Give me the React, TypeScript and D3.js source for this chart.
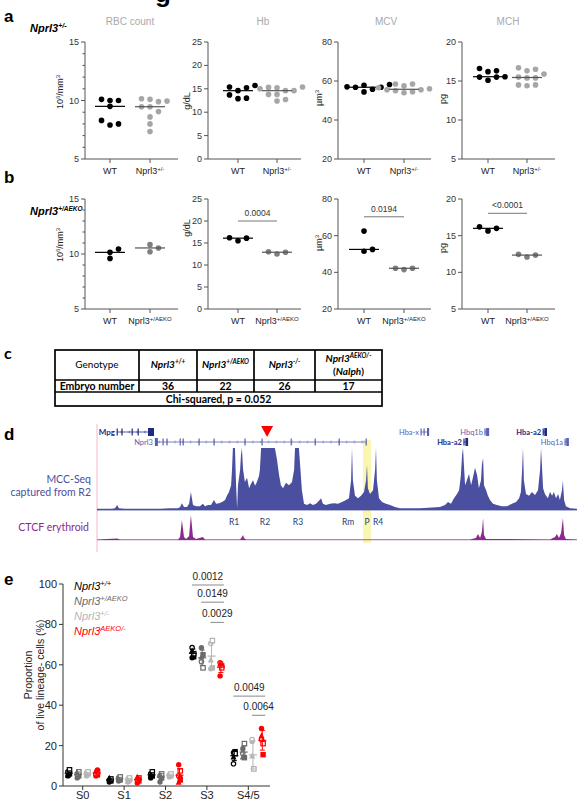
import React from "react";
import * as d3 from "d3";

const SANS = "'Liberation Sans', Arial, Helvetica, sans-serif";
const CAL = "Lato, 'Open Sans', 'DejaVu Sans', sans-serif";

// ---------------- Panel a data (Nprl3+/-) ----------------
const RBC_A_WT = [10.0, 10.0, 10.1, 9.5, 7.9, 8.3, 8.0];
const RBC_A_HET = [10.1, 10.15, 9.9, 9.95, 9.47, 9.47, 9.05, 8.6, 8.0, 7.35];
const HB_A_WT = [15.2, 15.4, 15.7, 14.6, 13.7, 12.9, 13.0];
const HB_A_HET = [15.0, 15.2, 15.4, 15.3, 14.6, 14.6, 13.8, 13.8, 12.4, 12.7];
const MCV_A_WT = [57.0, 58.2, 56.8, 55.8, 56.8, 57.8, 54.4];
const MCV_A_HET = [58.5, 57.5, 58.5, 56.5, 55.5, 55.5, 55.0, 54.5, 56.0, 54.0];
const MCH_A_WT = [16.6, 16.2, 16.3, 15.1, 15.55, 15.5, 15.5];
const MCH_A_HET = [16.5, 16.3, 16.7, 15.9, 15.5, 15.4, 15.4, 14.4, 14.5, 14.5];

// ---------------- Panel b data (Nprl3+/AEKO) ----------------
const RBC_B_WT = [10.45, 9.6, 10.15];
const RBC_B_AEKO = [10.85, 10.2, 10.55];
const HB_B_WT = [15.5, 16.2, 16.1];
const HB_B_AEKO = [12.5, 13.0, 12.9];
const MCV_B_WT = [51.5, 52.5, 62.5];
const MCV_B_AEKO = [41.5, 42.2, 42.2];
const MCH_B_WT = [15.65, 16.2, 16.0];
const MCH_B_AEKO = [12.1, 12.45, 12.35];
const B_PVALUES = { hb: "0.0004", mcv: "0.0194", mch: "<0.0001" };
const B_PBAR_LEVEL = { hb: 20, mcv: 70.3, mch: 18.05 };

// ---------------- Panel c table ----------------
const TABLE_GENOTYPES = [
  { base: "Nprl3", sup: "+/+" },
  { base: "Nprl3", sup: "+/AEKO" },
  { base: "Nprl3", sup: "-/-" },
  { base: "Nprl3", sup: "AEKO/-", line2: "(Nalph)" },
];
const EMBRYO_NUMBERS = [36, 22, 26, 17];
const CHI_TEXT = "Chi-squared, p = 0.052";

// ---------------- Panel d genome tracks (kb along locus) ----------------
const MCC_KB = [0, 2.7, 5, 6, 6.7, 7.3, 9.3, 14.3, 21, 24.3, 27, 27.7, 28.3, 29, 30, 30.7, 31.3, 32, 33, 34.3, 35.3, 36, 37, 38, 39, 39.7, 40.7, 41.7, 42.7, 43.3, 44, 44.7, 45, 45.3, 46, 46.3, 46.7, 47, 47.7, 48, 48.3, 48.7, 49.3, 50, 50.7, 51.3, 52, 52.7, 53.3, 54, 54.3, 54.7, 59.3, 60, 60.7, 61.3, 62, 63, 64, 65, 65.7, 66, 67.3, 67.7, 68.3, 69, 70, 71, 72, 73, 74, 74.7, 75.3, 76.3, 77.7, 79, 80.3, 81.7, 83, 84, 84.7, 85, 85.3, 86, 87, 88, 89, 89.7, 90, 90.3, 91, 92, 92.7, 93, 93.3, 94, 95, 96.3, 97.7, 99.3, 101, 107.7, 114.3, 116, 117, 118, 119, 120, 120.7, 121.3, 121.7, 122, 122.3, 122.7, 123.3, 124, 124.7, 125.3, 126, 126.7, 127.3, 128, 128.3, 128.7, 129, 129.7, 130.3, 131, 132, 133.3, 135, 136.7, 138.3, 139.7, 140.7, 141.3, 141.7, 142, 142.3, 143, 144, 145, 146, 147, 147.7, 148, 148.3, 148.7, 149.3, 150.3, 151, 151.7, 152.3, 153, 153.7, 154.3, 155, 155.3, 155.7, 156.3, 157.7, 160];
const MCC_SIGNAL = [2, 2, 2, 3, 8, 3, 2, 2, 2, 3, 3, 5, 11, 5, 5, 10, 29, 8, 6, 6, 10, 6, 8, 8, 16, 10, 11, 13, 16, 23, 29, 40, 65, 100, 100, 48, 3, 40, 65, 89, 100, 65, 45, 52, 35, 42, 48, 39, 45, 55, 65, 100, 100, 81, 56, 40, 35, 44, 40, 45, 65, 100, 100, 73, 32, 10, 8, 11, 8, 10, 15, 19, 10, 8, 10, 11, 10, 13, 16, 19, 48, 100, 48, 23, 19, 23, 29, 48, 73, 35, 26, 32, 65, 100, 48, 19, 13, 10, 8, 5, 3, 3, 5, 8, 13, 10, 19, 26, 32, 56, 89, 100, 73, 40, 48, 58, 40, 52, 68, 56, 35, 48, 73, 84, 40, 32, 23, 16, 10, 8, 6, 6, 10, 13, 19, 29, 65, 100, 48, 26, 23, 29, 24, 32, 65, 100, 73, 35, 26, 19, 29, 23, 29, 19, 26, 16, 32, 47, 16, 6, 3, 2];
const CTCF_KB = [0, 6.7, 7.7, 27, 27.7, 28.3, 29, 29.7, 30.7, 31.3, 32, 33, 35.3, 36, 47.7, 48.3, 48.7, 49, 49.7, 124.3, 126.3, 127, 127.7, 128.3, 128.7, 129, 129.7, 151, 152.7, 153.3, 154, 154.7, 155.3, 155.7, 156.3, 160];
const CTCF_SIGNAL = [2, 5, 2, 2, 11, 71, 11, 4, 14, 89, 11, 4, 11, 2, 2, 11, 18, 7, 2, 2, 7, 21, 7, 29, 79, 18, 4, 2, 11, 21, 7, 25, 79, 18, 4, 2];
const GENES = [
  { name: "Mpg", start: 6.7, end: 19, exons: [6.7, 8.3, 11.7, 13.7], thick: [17, 19], row: 0, dark: true },
  { name: "Nprl3", start: 19.3, end: 89.7, exons: [22, 23.3, 27.7, 28.7, 34, 39, 49.3, 55, 64.7, 72.7, 80.7, 89.7], thick: [19.3, 20.3], row: 1, dark: false },
  { name: "Hba-x", start: 108, end: 110.7, exons: [108, 109], thick: [110, 110.7], row: 0, dark: false },
  { name: "Hba-a2", start: 122.3, end: 123.7, exons: [122.3], thick: [122.8, 123.7], row: 1, dark: true },
  { name: "Hbq1b", start: 129.3, end: 130.7, exons: [129.3], thick: [129.7, 130.7], row: 0, dark: false },
  { name: "Hba-a2", start: 148.7, end: 150, exons: [148.7], thick: [149.1, 150], row: 0, dark: true },
  { name: "Hbq1a", start: 156, end: 157.3, exons: [156], thick: [156.4, 157.3], row: 1, dark: false },
];
const REGIONS = [
  { name: "R1", kb: 45.7 }, { name: "R2", kb: 56 }, { name: "R3", kb: 67 },
  { name: "Rm", kb: 83.7 }, { name: "P", kb: 90 }, { name: "R4", kb: 93.7 },
];
const CAPTURE_KB = 56.7;
const PROMOTER_BAND = [88.7, 91.3];

// ---------------- Panel e data ----------------
const E_CATEGORIES = ["S0", "S1", "S2", "S3", "S4/5"];
const E_GENOTYPES = ["+/+", "+/AEKO", "+/-", "AEKO/-"];
const E_WT = [[5, 6, 7, 8, 5.5], [2, 2.5, 3, 3.5, 4], [4, 5, 6, 7, 5.5], [63.5, 64, 68.5, 65.5, 67], [16.5, 17, 11, 16, 14.5]];
const E_AEKO_HET = [[4, 5, 6, 7, 6.5], [2.5, 3, 4, 4.5, 3.5], [2, 4, 5, 6, 5.5], [68.5, 65, 61.5, 58.5, 64], [18.5, 14, 16, 21, 14.5]];
const E_HET = [[5, 6, 6.5, 7, 5.5], [2, 3, 3.5, 4, 2.5], [4.5, 5, 5.5, 6], [58, 58.5, 70.5, 72, 62.5], [22, 8.5, 23, 8.5, 15]];
const E_AEKO_KO = [[5, 5.5, 6, 7, 7.5, 8], [1.5, 2.5, 3, 4, 4.5, 3.5], [10.5, 3, 5, 7.5, 2, 4], [54.5, 59.5, 61, 58.5, 60.5], [28.5, 15.5, 23, 21, 25]];
const E_SIGNIF = [
  { cat: "S3", from: 0, to: 3, p: "0.0012", level: 99.5 },
  { cat: "S3", from: 1, to: 3, p: "0.0149", level: 91 },
  { cat: "S3", from: 2, to: 3, p: "0.0029", level: 81 },
  { cat: "S4/5", from: 0, to: 3, p: "0.0049", level: 44.5 },
  { cat: "S4/5", from: 2, to: 3, p: "0.0064", level: 35 },
];
const E_YTICKS = [0, 20, 40, 60, 80, 100];

// ---------------- helpers ----------------
function beeswarm(vals: number[], y: (v: number) => number, r: number, step: number) {
  const idx = vals.map((_, i) => i).sort((a, b) => vals[a] - vals[b]);
  const placed: { x: number; y: number }[] = [];
  const out: { x: number; y: number }[] = new Array(vals.length);
  const cands = [0];
  for (let j = 1; j < 10; j++) cands.push(j * step, -j * step);
  for (const i of idx) {
    const py = y(vals[i]);
    let px = 0;
    for (const c of cands) {
      if (placed.every((p) => Math.hypot(p.x - c, p.y - py) >= 2 * r + 0.2)) { px = c; break; }
    }
    placed.push({ x: px, y: py });
    out[i] = { x: px, y: py };
  }
  return out;
}

function GeneLabel({ base, sup, fs, sfs }: { base: string; sup: string; fs: number; sfs: number }) {
  return (
    <>
      <tspan fontSize={fs}>{base}</tspan>
      <tspan fontSize={sfs} dy={-fs * 0.38}>{sup}</tspan>
    </>
  );
}

type ScatterProps = {
  ax: number; top: number; bottom: number; domain: [number, number]; ticks: number[]; minorStep?: number;
  xs: [number, number]; data: number[][]; dotColors: string[]; lineColors: string[];
  ylabel: React.ReactNode; ylabelX: number; ylabelY: number;
  xlabelSup: string; xlabelY: number; title?: string; titleX?: number;
  sig?: { text: string; level: number };
};

function Scatter(p: ScatterProps) {
  const y = d3.scaleLinear(p.domain, [p.bottom, p.top]);
  const axisEnd = p.ax + 93;
  const minors: number[] = [];
  if (p.minorStep) {
    for (let v = p.domain[0]; v <= p.domain[1] + 1e-9; v += p.minorStep) {
      if (!p.ticks.some((t) => Math.abs(t - v) < 1e-6)) minors.push(v);
    }
  }
  const r = 2.8;
  return (
    <g>
      {p.title && (
        <text x={p.titleX} y={25} textAnchor="middle" fontSize={10} fill="#a9a9a9">{p.title}</text>
      )}
      <line x1={p.ax} x2={p.ax} y1={p.top} y2={p.bottom} stroke="#555" strokeWidth={1} />
      <line x1={p.ax} x2={axisEnd} y1={p.bottom} y2={p.bottom} stroke="#555" strokeWidth={1} />
      {p.ticks.map((t) => (
        <g key={"t" + t}>
          <line x1={p.ax - 4} x2={p.ax} y1={y(t)} y2={y(t)} stroke="#555" />
          <text x={p.ax - 6} y={y(t) + 3} textAnchor="end" fontSize={9} fill="#333">{t}</text>
        </g>
      ))}
      {minors.map((t) => (
        <line key={"m" + t} x1={p.ax - 2.5} x2={p.ax} y1={y(t)} y2={y(t)} stroke="#555" />
      ))}
      {p.xs.map((x, i) => (
        <line key={"xt" + i} x1={x} x2={x} y1={p.bottom} y2={p.bottom + 4} stroke="#555" />
      ))}
      <text x={p.xs[0]} y={p.xlabelY} textAnchor="middle" fontSize={9} fill="#222">WT</text>
      <text x={p.xs[1]} y={p.xlabelY} textAnchor="middle" fill="#222">
        <GeneLabel base="Nprl3" sup={p.xlabelSup} fs={9} sfs={6} />
      </text>
      <text transform={`translate(${p.ylabelX},${p.ylabelY}) rotate(-90)`} textAnchor="middle" fontSize={9} fill="#222">
        {p.ylabel}
      </text>
      {p.data.map((vals, gi) => {
        const pts = beeswarm(vals, y, r, 8.5);
        const med = d3.median(vals) as number;
        return (
          <g key={"g" + gi}>
            {pts.map((pt, k) => (
              <circle key={k} cx={p.xs[gi] + pt.x} cy={pt.y} r={r} fill={p.dotColors[gi]} />
            ))}
            <line x1={p.xs[gi] - 15} x2={p.xs[gi] + 15} y1={y(med)} y2={y(med)} stroke={p.lineColors[gi]} strokeWidth={1.2} />
          </g>
        );
      })}
      {p.sig && (
        <g>
          <line x1={p.xs[0]} x2={p.xs[1]} y1={y(p.sig.level)} y2={y(p.sig.level)} stroke="#777" strokeWidth={1} />
          <text x={(p.xs[0] + p.xs[1]) / 2} y={y(p.sig.level) - 5} textAnchor="middle" fontSize={8.5} fill="#333">{p.sig.text}</text>
        </g>
      )}
    </g>
  );
}

const ylabRBC = (
  <>
    <tspan>10</tspan>
    <tspan fontSize={6} dy={-3.5}>6</tspan>
    <tspan dy={3.5}>/mm</tspan>
    <tspan fontSize={6} dy={-3.5}>3</tspan>
  </>
);
const ylabMCV = (
  <>
    <tspan>µm</tspan>
    <tspan fontSize={6} dy={-3.5}>3</tspan>
  </>
);

function PanelAB() {
  const rowA = { top: 42, bottom: 159, xl: 174 };
  const rowB = { top: 199, bottom: 309, xl: 324 };
  const grayA = ["#000", "#a6a6a6"];
  const lineA = ["#000", "#555"];
  const grayB = ["#000", "#7f7f7f"];
  const lineB = ["#000", "#555"];
  return (
    <g fontFamily={SANS}>
      <text x={4} y={22} fontSize={17} fontWeight="bold">a</text>
      <text x={30} y={32} fontWeight="bold" fontStyle="italic">
        <GeneLabel base="Nprl3" sup="+/-" fs={11} sfs={7} />
      </text>
      <Scatter ax={85} top={rowA.top} bottom={rowA.bottom} domain={[5, 15]} ticks={[5, 10, 15]} minorStep={1}
        xs={[110, 150]} data={[RBC_A_WT, RBC_A_HET]} dotColors={grayA} lineColors={lineA}
        ylabel={ylabRBC} ylabelX={63} ylabelY={92} xlabelSup="+/-" xlabelY={rowA.xl} title="RBC count" titleX={130} />
      <Scatter ax={208} top={rowA.top} bottom={rowA.bottom} domain={[0, 25]} ticks={[0, 5, 10, 15, 20, 25]}
        xs={[238, 277]} data={[HB_A_WT, HB_A_HET]} dotColors={grayA} lineColors={lineA}
        ylabel="g/dL" ylabelX={190} ylabelY={101} xlabelSup="+/-" xlabelY={rowA.xl} title="Hb" titleX={263} />
      <Scatter ax={338} top={rowA.top} bottom={rowA.bottom} domain={[20, 80]} ticks={[20, 40, 60, 80]}
        xs={[364, 404]} data={[MCV_A_WT, MCV_A_HET]} dotColors={grayA} lineColors={lineA}
        ylabel={ylabMCV} ylabelX={322} ylabelY={98} xlabelSup="+/-" xlabelY={rowA.xl} title="MCV" titleX={386} />
      <Scatter ax={462} top={rowA.top} bottom={rowA.bottom} domain={[5, 20]} ticks={[5, 10, 15, 20]}
        xs={[488, 527]} data={[MCH_A_WT, MCH_A_HET]} dotColors={grayA} lineColors={lineA}
        ylabel="pg" ylabelX={446} ylabelY={99} xlabelSup="+/-" xlabelY={rowA.xl} title="MCH" titleX={508} />

      <text x={4} y={183} fontSize={17} fontWeight="bold">b</text>
      <text x={30} y={215} fontWeight="bold" fontStyle="italic">
        <GeneLabel base="Nprl3" sup="+/AEKO" fs={11} sfs={6.5} />
      </text>
      <Scatter ax={85} top={rowB.top} bottom={rowB.bottom} domain={[5, 15]} ticks={[5, 10, 15]} minorStep={1}
        xs={[110, 150]} data={[RBC_B_WT, RBC_B_AEKO]} dotColors={grayB} lineColors={lineB}
        ylabel={ylabRBC} ylabelX={63} ylabelY={245} xlabelSup="+/AEKO" xlabelY={rowB.xl} />
      <Scatter ax={208} top={rowB.top} bottom={rowB.bottom} domain={[0, 25]} ticks={[0, 5, 10, 15, 20, 25]}
        xs={[238, 277]} data={[HB_B_WT, HB_B_AEKO]} dotColors={grayB} lineColors={lineB}
        ylabel="g/dL" ylabelX={190} ylabelY={228} xlabelSup="+/AEKO" xlabelY={rowB.xl}
        sig={{ text: B_PVALUES.hb, level: B_PBAR_LEVEL.hb }} />
      <Scatter ax={338} top={rowB.top} bottom={rowB.bottom} domain={[20, 80]} ticks={[20, 40, 60, 80]}
        xs={[364, 404]} data={[MCV_B_WT, MCV_B_AEKO]} dotColors={grayB} lineColors={lineB}
        ylabel={ylabMCV} ylabelX={322} ylabelY={243} xlabelSup="+/AEKO" xlabelY={rowB.xl}
        sig={{ text: B_PVALUES.mcv, level: B_PBAR_LEVEL.mcv }} />
      <Scatter ax={462} top={rowB.top} bottom={rowB.bottom} domain={[5, 20]} ticks={[5, 10, 15, 20]}
        xs={[488, 527]} data={[MCH_B_WT, MCH_B_AEKO]} dotColors={grayB} lineColors={lineB}
        ylabel="pg" ylabelX={446} ylabelY={248} xlabelSup="+/AEKO" xlabelY={rowB.xl}
        sig={{ text: B_PVALUES.mch, level: B_PBAR_LEVEL.mch }} />
    </g>
  );
}

function PanelC() {
  const cols = [55, 139, 197, 254, 315, 382];
  const rows = [350, 380, 392, 406];
  const sw = 1.7;
  const cx = (i: number) => (cols[i] + cols[i + 1]) / 2;
  return (
    <g fontFamily={CAL}>
      <text x={4} y={359} fontSize={16} fontWeight="bold">c</text>
      <rect x={cols[0]} y={rows[0]} width={cols[5] - cols[0]} height={rows[3] - rows[0]} fill="none" stroke="#000" strokeWidth={sw} />
      {rows.slice(1, 3).map((ry) => (
        <line key={ry} x1={cols[0]} x2={cols[5]} y1={ry} y2={ry} stroke="#000" strokeWidth={sw} />
      ))}
      {cols.slice(1, 5).map((c) => (
        <line key={c} x1={c} x2={c} y1={rows[0]} y2={rows[2]} stroke="#000" strokeWidth={sw} />
      ))}
      <text x={cx(0)} y={368} textAnchor="middle" fontSize={10}>Genotype</text>
      {TABLE_GENOTYPES.map((g, i) => (
        <g key={i}>
          <text x={cx(i + 1)} y={g.line2 ? 362 : 368} textAnchor="middle" fontWeight="bold" fontStyle="italic">
            <GeneLabel base={g.base} sup={g.sup} fs={10} sfs={6.5} />
          </text>
          {g.line2 && (
            <text x={cx(i + 1)} y={375} textAnchor="middle" fontWeight="bold" fontSize={10}>
              (<tspan fontStyle="italic">{g.line2.replace(/[()]/g, "")}</tspan>)
            </text>
          )}
        </g>
      ))}
      <text x={cx(0)} y={389.5} textAnchor="middle" fontSize={10.5} fontWeight="bold">Embryo number</text>
      {EMBRYO_NUMBERS.map((n, i) => (
        <text key={i} x={cx(i + 1)} y={389.5} textAnchor="middle" fontSize={10.5} fontWeight="bold">{n}</text>
      ))}
      <text x={(cols[0] + cols[5]) / 2} y={403} textAnchor="middle" fontSize={10.5} fontWeight="bold">{CHI_TEXT}</text>
    </g>
  );
}

function PanelD() {
  const x = d3.scaleLinear([0, 160], [97, 577]);
  const yM = d3.scaleLinear([0, 100], [510, 448]);
  const yC = d3.scaleLinear([0, 100], [540, 512]);
  const mccPts = MCC_KB.map((k, i) => [k, MCC_SIGNAL[i]] as [number, number]);
  const ctcfPts = CTCF_KB.map((k, i) => [k, CTCF_SIGNAL[i]] as [number, number]);
  const mccArea = d3.area<[number, number]>().x((d) => x(d[0])).y0(yM(0)).y1((d) => yM(Math.min(100, d[1])))(mccPts) || "";
  const ctcfArea = d3.area<[number, number]>().x((d) => x(d[0])).y0(yC(0)).y1((d) => yC(d[1]))(ctcfPts) || "";
  const blue = "#4a4fa0";
  const purple = "#8b2a8e";
  const rowY = [432, 442];
  const tri = x(CAPTURE_KB);
  return (
    <g fontFamily={CAL}>
      <text x={4} y={440} fontSize={17} fontWeight="bold" fontFamily={SANS}>d</text>
      <line x1={97} x2={97} y1={424} y2={552} stroke="#f2b8cc" strokeWidth={1} />
      <rect x={x(PROMOTER_BAND[0])} y={440} width={x(PROMOTER_BAND[1]) - x(PROMOTER_BAND[0])} height={103} fill="#f7f07a" opacity={0.6} />
      {GENES.map((g, i) => {
        const gy = rowY[g.row];
        const col = g.dark ? "#1f2a80" : "#5a60b4";
        const chev: number[] = [];
        for (let k = g.start + 1.3; k < g.end - 0.5; k += 2.6) chev.push(k);
        return (
          <g key={i}>
            <line x1={x(g.start)} x2={x(g.end)} y1={gy} y2={gy} stroke={col} strokeWidth={0.8} />
            {g.end - g.start > 5 && chev.map((k) => (
              <path key={k} d={`M${x(k) + 1},${gy - 1.5} L${x(k)},${gy} L${x(k) + 1},${gy + 1.5}`} fill="none" stroke={col} strokeWidth={0.5} />
            ))}
            {g.exons.map((e) => (
              <rect key={e} x={x(e) - 0.5} y={gy - 3.5} width={1.2} height={7} fill={col} />
            ))}
            <rect x={x(g.thick[0])} y={gy - 4} width={x(g.thick[1]) - x(g.thick[0])} height={8} fill={col} />
            <text x={x(g.start) - 2} y={gy + 3} textAnchor="end" fontSize={g.name === "Mpg" ? 8 : 7.5} fill={col} fontWeight={g.dark ? "bold" : "normal"}>{g.name}</text>
          </g>
        );
      })}
      <path d={`M${tri - 6},426 L${tri + 6},426 L${tri},437 Z`} fill="#f00" />
      <path d={mccArea} fill={blue} />
      <line x1={97} x2={577} y1={510} y2={510} stroke={blue} strokeWidth={0.8} />
      <text x={91} y={483} textAnchor="end" fontSize={10.5} fill={blue}>MCC-Seq</text>
      <text x={91} y={496} textAnchor="end" fontSize={10.5} fill={blue}>captured from R2</text>
      {REGIONS.map((r) => (
        <text key={r.name} x={x(r.kb)} y={525} textAnchor="middle" fontSize={8.5} fill="#2b3a70">{r.name}</text>
      ))}
      <line x1={97} x2={577} y1={540} y2={540} stroke="#c9a0cf" strokeWidth={0.8} />
      <path d={ctcfArea} fill={purple} />
      <text x={89} y={531} textAnchor="end" fontSize={10.5} fill={purple}>CTCF erythroid</text>
    </g>
  );
}

function Marker({ shape, cx, cy, color }: { shape: number; cx: number; cy: number; color: string }) {
  const r = 2.7;
  switch (shape % 5) {
    case 0: return <circle cx={cx} cy={cy} r={r} fill={color} />;
    case 1: return <rect x={cx - r} y={cy - r} width={2 * r} height={2 * r} fill={color} />;
    case 2: return <circle cx={cx} cy={cy} r={r - 0.5} fill="#fff" stroke={color} strokeWidth={1.2} />;
    case 3: return <rect x={cx - r + 0.5} y={cy - r + 0.5} width={2 * r - 1} height={2 * r - 1} fill="#fff" stroke={color} strokeWidth={1.2} />;
    default: return <path d={`M${cx},${cy - r - 0.5} L${cx + r + 0.3},${cy + r} L${cx - r - 0.3},${cy + r} Z`} fill={color} />;
  }
}

function PanelE() {
  const y = d3.scaleLinear([0, 100], [786, 584]);
  const xb = d3.scaleBand(E_CATEGORIES, [62, 269]);
  const sub = d3.scalePoint(E_GENOTYPES, [-14, 14]);
  const colors = ["#000", "#6b6b6b", "#b5b5b5", "#f00"];
  const series = [E_WT, E_AEKO_HET, E_HET, E_AEKO_KO];
  const cxOf = (c: string, gi: number) => (xb(c) as number) + xb.bandwidth() / 2 + (sub(E_GENOTYPES[gi]) as number);
  return (
    <g fontFamily={SANS}>
      <text x={4} y={585} fontSize={17} fontWeight="bold">e</text>
      <line x1={63} x2={63} y1={584} y2={786} stroke="#333" />
      <line x1={63} x2={270} y1={786} y2={786} stroke="#333" />
      {E_YTICKS.map((t) => (
        <g key={t}>
          <line x1={59} x2={63} y1={y(t)} y2={y(t)} stroke="#333" />
          <text x={57} y={y(t) + 4} textAnchor="end" fontSize={11} fill="#222">{t}</text>
        </g>
      ))}
      {E_CATEGORIES.map((c) => {
        const cx = (xb(c) as number) + xb.bandwidth() / 2;
        return (
          <g key={c}>
            <line x1={cx} x2={cx} y1={786} y2={790} stroke="#333" />
            <text x={cx} y={799} textAnchor="middle" fontSize={11} fill="#222">{c}</text>
          </g>
        );
      })}
      <text transform="translate(32,675) rotate(-90)" textAnchor="middle" fontSize={10.5} fill="#222">Proportion</text>
      <text transform="translate(44,675) rotate(-90)" textAnchor="middle" fontSize={10.5} fill="#222">of live lineage- cells (%)</text>
      {series.map((ser, gi) =>
        E_CATEGORIES.map((c, ci) => {
          const vals = ser[ci];
          const cx = cxOf(c, gi);
          const m = d3.mean(vals) as number;
          const sd = d3.deviation(vals) as number;
          return (
            <g key={gi + "-" + ci}>
              {vals.map((v, k) => (
                <Marker key={k} shape={k} cx={cx + (k % 2 === 0 ? -0.8 : 0.8)} cy={y(v)} color={colors[gi]} />
              ))}
              <line x1={cx} x2={cx} y1={y(m - sd)} y2={y(m + sd)} stroke={colors[gi]} strokeWidth={1} />
              <line x1={cx - 2.5} x2={cx + 2.5} y1={y(m - sd)} y2={y(m - sd)} stroke={colors[gi]} strokeWidth={1} />
              <line x1={cx - 2.5} x2={cx + 2.5} y1={y(m + sd)} y2={y(m + sd)} stroke={colors[gi]} strokeWidth={1} />
              <line x1={cx - 4} x2={cx + 4} y1={y(m)} y2={y(m)} stroke={colors[gi]} strokeWidth={1.2} />
            </g>
          );
        })
      )}
      {E_SIGNIF.map((s, i) => {
        const x1 = cxOf(s.cat, s.from) - 1;
        const x2 = cxOf(s.cat, s.to) + 3;
        return (
          <g key={i}>
            <line x1={x1} x2={x2} y1={y(s.level)} y2={y(s.level)} stroke="#888" strokeWidth={1} />
            <text x={(x1 + x2) / 2} y={y(s.level) - 5} textAnchor="middle" fontSize={10} fill="#222">{s.p}</text>
          </g>
        );
      })}
      {E_GENOTYPES.map((g, i) => (
        <text key={g} x={74} y={590 + i * 15} fontStyle="italic" fill={colors[i]}>
          <GeneLabel base="Nprl3" sup={g} fs={11} sfs={7.5} />
        </text>
      ))}
    </g>
  );
}

export default function App() {
  return (
    <svg width={578} height={800} style={{ position: "absolute", left: 0, top: 0, background: "#fff" }} fontFamily={SANS}>
      <rect width={578} height={800} fill="#fff" />
      <text x={155} y={2} fontSize={26} fontWeight="bold" fontFamily={SANS}>g</text>
      <PanelAB />
      <PanelC />
      <PanelD />
      <PanelE />
    </svg>
  );
}
